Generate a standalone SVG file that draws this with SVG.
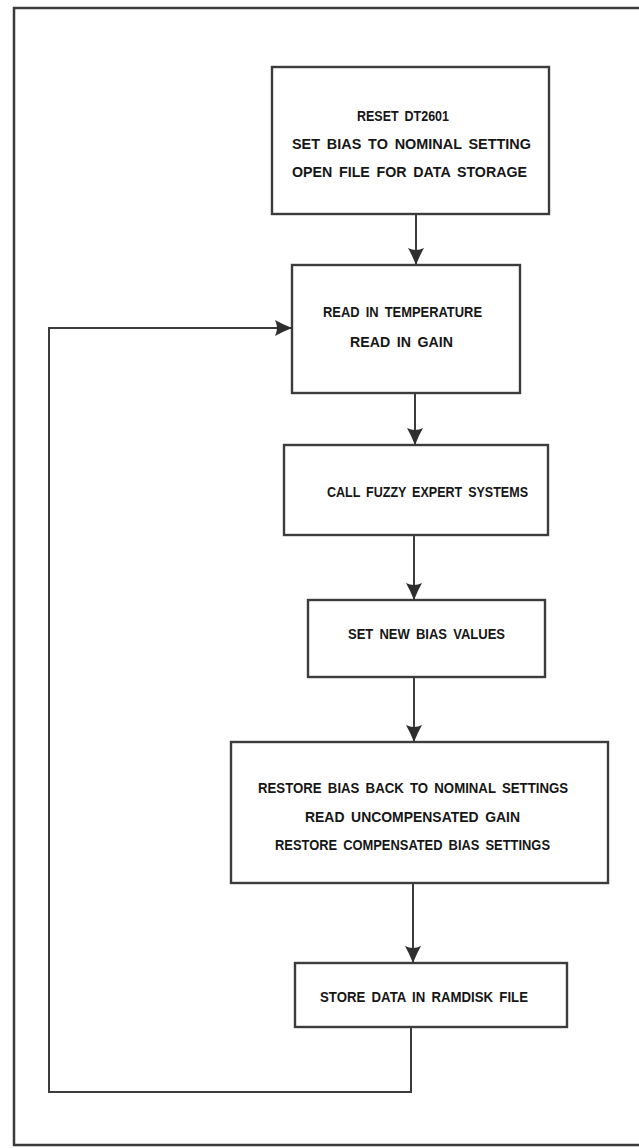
<svg xmlns="http://www.w3.org/2000/svg" width="639" height="1148" viewBox="0 0 639 1148">
<style>
.frame{fill:none;stroke:#3a3a3a;stroke-width:2.5}
.box{fill:#fff;stroke:#3c3c3c;stroke-width:2.4}
.conn{fill:none;stroke:#3c3c3c;stroke-width:2}
.t{font-family:"Liberation Sans",Arial,sans-serif;font-weight:bold;font-size:15.5px;fill:#161616;word-spacing:3px}
</style>
<defs>
<marker id="ah" markerUnits="userSpaceOnUse" viewBox="0 0 17 16" refX="16" refY="8" markerWidth="17" markerHeight="16" orient="auto">
<path d="M0,0 Q7,4 17,8 Q7,12 0,16 Q4,8 0,0 Z" fill="#2e2e2e"/>
</marker>
</defs>
<rect class="frame" x="14" y="8" width="640" height="1137"/>
<g id="connectors">
<path class="conn" d="M416,214 V264" marker-end="url(#ah)"/>
<path class="conn" d="M415,393 V444" marker-end="url(#ah)"/>
<path class="conn" d="M414,535 V599" marker-end="url(#ah)"/>
<path class="conn" d="M414,677 V741" marker-end="url(#ah)"/>
<path class="conn" d="M413,883 V962" marker-end="url(#ah)"/>
<path class="conn" d="M411,1027 V1092 H49 V328 H291" marker-end="url(#ah)"/>
</g>
<g id="n1">
<rect class="box" x="272" y="67" width="277" height="147"/>
<text class="t" x="357" y="121" textLength="92" lengthAdjust="spacingAndGlyphs">RESET DT2601</text>
<text class="t" x="292" y="149" textLength="239" lengthAdjust="spacingAndGlyphs">SET BIAS TO NOMINAL SETTING</text>
<text class="t" x="292" y="177" textLength="235" lengthAdjust="spacingAndGlyphs">OPEN FILE FOR DATA STORAGE</text>
</g>
<g id="n2">
<rect class="box" x="292" y="265" width="228" height="128"/>
<text class="t" x="323" y="317" textLength="159" lengthAdjust="spacingAndGlyphs">READ IN TEMPERATURE</text>
<text class="t" x="350" y="347" textLength="103" lengthAdjust="spacingAndGlyphs">READ IN GAIN</text>
</g>
<g id="n3">
<rect class="box" x="284" y="445" width="264" height="90"/>
<text class="t" x="327" y="497" textLength="201" lengthAdjust="spacingAndGlyphs">CALL FUZZY EXPERT SYSTEMS</text>
</g>
<g id="n4">
<rect class="box" x="308" y="600" width="237" height="77"/>
<text class="t" x="348" y="639" textLength="157" lengthAdjust="spacingAndGlyphs">SET NEW BIAS VALUES</text>
</g>
<g id="n5">
<rect class="box" x="231" y="742" width="377" height="141"/>
<text class="t" x="258" y="793" textLength="310" lengthAdjust="spacingAndGlyphs">RESTORE BIAS BACK TO NOMINAL SETTINGS</text>
<text class="t" x="305" y="822" textLength="215" lengthAdjust="spacingAndGlyphs">READ UNCOMPENSATED GAIN</text>
<text class="t" x="275" y="850" textLength="275" lengthAdjust="spacingAndGlyphs">RESTORE COMPENSATED BIAS SETTINGS</text>
</g>
<g id="n6">
<rect class="box" x="295" y="963" width="272" height="64"/>
<text class="t" x="320" y="1002" textLength="208" lengthAdjust="spacingAndGlyphs">STORE DATA IN RAMDISK FILE</text>
</g>
</svg>
